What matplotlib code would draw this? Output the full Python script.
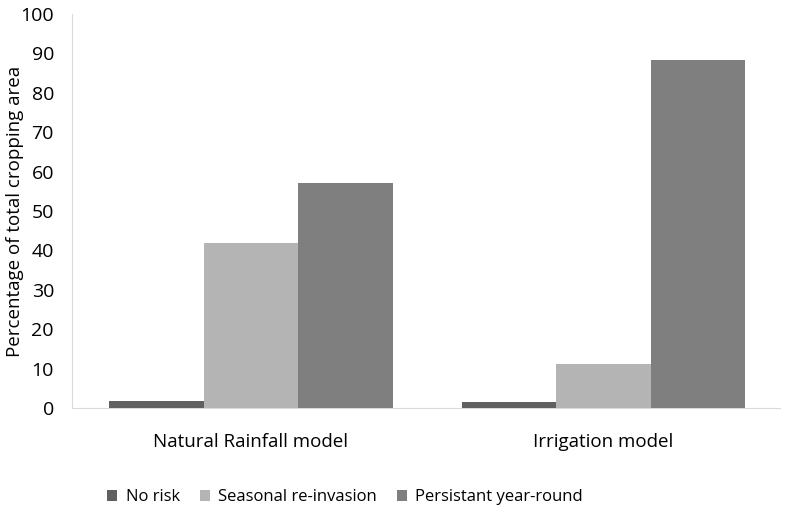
import numpy as np
import matplotlib.pyplot as plt

plt.rcParams['font.family'] = ['Open Sans', 'DejaVu Sans']

categories = ["Natural Rainfall model", "Irrigation model"]
series = ["No risk", "Seasonal re-invasion", "Persistant year-round"]
no_risk = [1.8, 1.5]
seasonal = [42.0, 11.2]
persistent = [57.0, 88.3]
values = [no_risk, seasonal, persistent]
colors = ["#606060", "#b3b4b3", "#7f7f7f"]

fig = plt.figure(figsize=(7.86, 5.14), dpi=100)
ax = fig.add_axes([0.0916, 0.206, 0.9004, 0.767])

x = np.arange(len(categories))
w = 0.268
for i, (vals, col, lab) in enumerate(zip(values, colors, series)):
    ax.bar(x + (i - 1) * w, vals, w, color=col, label=lab, zorder=3)

ax.set_xlim(-0.507, 1.5)
ax.set_ylim(0, 100)
ax.set_yticks(range(0, 101, 10))
ax.set_xticks(x)
ax.set_xticklabels(categories, fontsize=13.5)
ax.tick_params(axis="y", labelsize=14, length=0, pad=13)
ax.tick_params(axis="x", length=0, pad=18)
for s in ["top", "right"]:
    ax.spines[s].set_visible(False)
for s in ["left", "bottom"]:
    ax.spines[s].set_color("#d9d9d9")
ax.set_ylabel("Percentage of total cropping area", fontsize=13.5)
ax.yaxis.set_label_coords(-0.068, 0.5)

ax.legend(loc="upper center", bbox_to_anchor=(0.386, -0.168), ncol=3, frameon=False,
          fontsize=12, handlelength=0.6, handleheight=0.6, handletextpad=0.5,
          columnspacing=1.2)

plt.savefig("out.png", dpi=100)
